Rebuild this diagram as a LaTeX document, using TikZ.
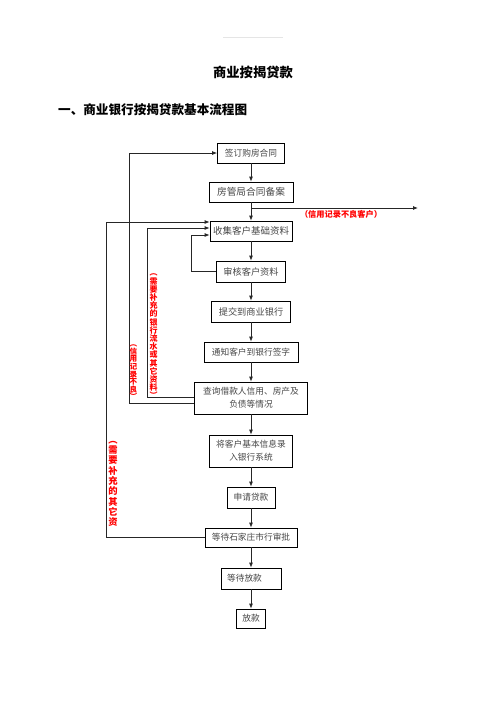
\documentclass[tikz,border=0pt]{standalone}
\usepackage{fontspec}
\newfontfamily\cjk{Noto Sans CJK SC}
\usetikzlibrary{arrows.meta}
\tikzset{
  box/.style={draw=black, line width=0.8pt, inner sep=0pt, align=center, text=black!72,
    font=\cjk\fontsize{8.7}{13.2}\selectfont},
  arr/.style={draw=black!85, line width=0.8pt, -{Latex[length=5pt,width=4pt]}},
  ln/.style={draw=black!85, line width=0.8pt},
  redv/.style={text=red, align=center, inner sep=0pt},
  redh/.style={text=red, inner sep=0pt, font=\cjk\bfseries\fontsize{8.2}{9}\selectfont},
  ttl/.style={inner sep=0pt, font=\cjk\bfseries\fontsize{13.3}{14}\selectfont}
}
\begin{document}
\begin{tikzpicture}[x=1pt,y=-1pt]
\useasboundingbox (0,0) rectangle (496,702);
\fill[white] (0,0) rectangle (496,702);
\coordinate (h1) at (223,37);
\coordinate (h2) at (283,37);
\draw[gray!20, line width=0.5pt] (h1) -- (h2);

\node[ttl] (title) at (253,72) {商业按揭贷款};
\node[ttl, anchor=west, font=\cjk\bfseries\fontsize{12.6}{14}\selectfont] (head) at (58,110) {一、商业银行按揭贷款基本流程图};

\node[box, minimum width=67, minimum height=20] (b1) at (251,153) {签订购房合同};
\node[box, minimum width=84, minimum height=20, font=\cjk\fontsize{9.7}{12}\selectfont] (b2) at (251,192) {房管局合同备案};
\node[box, minimum width=82, minimum height=20, font=\cjk\fontsize{9.5}{12}\selectfont] (b3) at (251,231) {收集客户基础资料};
\node[box, minimum width=69, minimum height=21, font=\cjk\fontsize{9.2}{12}\selectfont] (b4) at (251,271.5) {审核客户资料};
\node[box, minimum width=79, minimum height=21, font=\cjk\fontsize{9.2}{12}\selectfont] (b5) at (251,311.5) {提交到商业银行};
\node[box, minimum width=94, minimum height=20] (b6) at (251,352) {通知客户到银行签字};
\node[box, minimum width=113, minimum height=32] (b7) at (251,398) {查询借款人信用、房产及\\负债等情况};
\node[box, minimum width=83, minimum height=32] (b8) at (251,451) {将客户基本信息录\\入银行系统};
\node[box, minimum width=48, minimum height=21] (b9) at (251,497.5) {申请贷款};
\node[box, minimum width=92, minimum height=19] (b10) at (251,537.5) {等待石家庄市行审批};
\node[box, minimum width=60, minimum height=21] (b11) at (251,578.5) {等待放款\hspace{13pt}};
\node[box, minimum width=29, minimum height=19] (b12) at (251,618.5) {放款};

\draw[arr] (b1) -- (b2);
\draw[arr] (b2) -- (b3);
\draw[arr] (b3) -- (b4);
\draw[arr] (b4) -- (b5);
\draw[arr] (b5) -- (b6);
\draw[arr] (b6) -- (b7);
\draw[arr] (b7) -- (b8);
\draw[arr] (b8) -- (b9);
\draw[arr] (b9) -- (b10);
\draw[arr] (b10) -- (b11);
\draw[arr] (b11) -- (b12);

% right exit
\coordinate (e0) at (251,208);
\coordinate (e1) at (418,208);
\draw[arr] (e0) -- (e1);
\node[redh] (lblE) at (341,214) {（信用记录不良客户）};

% loop A: from b10 back to b3
\coordinate (a1) at (106,537.5);
\coordinate (a2) at (106,222);
\draw[arr] (b10.west) -- (a1) -- (a2) -- (a2 -| b3.west);
\node[redv, font=\cjk\bfseries\fontsize{9.3}{10.3}\selectfont, anchor=north] (lblA) at (113,441) {︵\\需\\要\\补\\充\\的\\其\\它\\资};

% loop B: from b7 back to b1
\coordinate (c1) at (129,403);
\coordinate (c2) at (129,153);
\draw[arr] (c1 -| b7.west) -- (c1) -- (c2) -- (b1.west);
\node[redv, font=\cjk\bfseries\fontsize{7.6}{7.6}\selectfont, anchor=south] (lblB) at (133.5,400) {︵\\信\\用\\记\\录\\不\\良\\︶};

% loop C: from b7 back to b3
\coordinate (d1) at (147,397);
\coordinate (d2) at (147,228);
\draw[arr] (d1 -| b7.west) -- (d1) -- (d2) -- (d2 -| b3.west);
\node[redv, font=\cjk\bfseries\fontsize{8}{8.2}\selectfont, anchor=south] (lblC) at (153.5,399) {︵\\需\\要\\补\\充\\的\\银\\行\\流\\水\\或\\其\\它\\资\\料\\︶};

% loop D: from b4 back to b3
\coordinate (f1) at (191,271.5);
\coordinate (f2) at (191,235);
\draw[arr] (b4.west) -- (f1) -- (f2) -- (f2 -| b3.west);
\end{tikzpicture}
\end{document}
